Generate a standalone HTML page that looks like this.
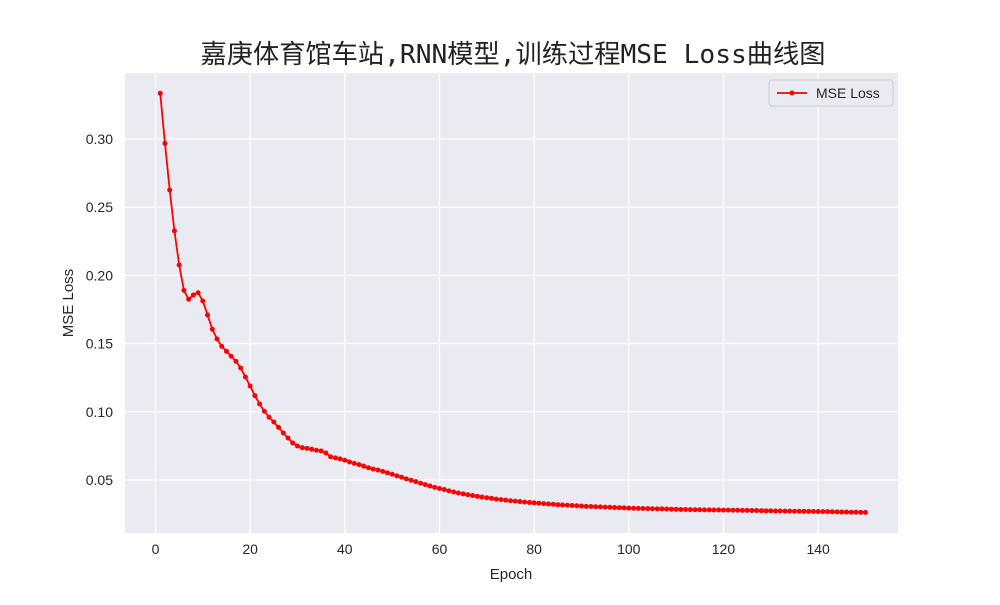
<!DOCTYPE html>
<html><head><meta charset="utf-8"><style>
body{margin:0;background:#fff;}
svg text{font-family:"Liberation Sans","DejaVu Sans",sans-serif;}
</style></head><body>
<svg id="chart" width="1000" height="600" xmlns="http://www.w3.org/2000/svg">
<rect x="0" y="0" width="1000" height="600" fill="#fff"/>
<rect x="125" y="73" width="773" height="460" fill="#eaeaf2"/>
<g id="grid"></g>
<g id="ticks"></g>
<text x="513" y="63" text-anchor="middle" font-size="26" textLength="625" lengthAdjust="spacingAndGlyphs" fill="#222" style="font-family:'DejaVu Sans Mono','Noto Sans CJK SC',monospace">嘉庚体育馆车站,RNN模型,训练过程MSE Loss曲线图</text>
<text x="511" y="579" text-anchor="middle" font-size="15" fill="#262626">Epoch</text>
<text x="73" y="303" text-anchor="middle" font-size="15" fill="#262626" transform="rotate(-90 73 303)">MSE Loss</text>
<g id="series"></g>
<g>
<rect x="769" y="80" width="124" height="26" rx="3" fill="#eaeaf2" stroke="#ccc"/>
<line x1="777" y1="93" x2="807" y2="93" stroke="red" stroke-width="1.8"/>
<circle cx="792" cy="93" r="2.5" fill="red"/>
<text x="816" y="98" font-size="14" fill="#262626">MSE Loss</text>
</g>
</svg>
<script>
const epochs = Array.from({length:150},(_,i)=>i+1);
const loss = [0.3335,0.2968,0.2626,0.2326,0.2076,0.189,0.1825,0.1856,0.1873,0.1812,
0.171,0.1605,0.1534,0.148,0.1443,0.1407,0.137,0.1321,0.1255,0.1189,
0.1118,0.1057,0.1004,0.096,0.0925,0.0886,0.0845,0.0808,0.0771,0.0749,
0.0737,0.0732,0.0725,0.0718,0.0713,0.0698,0.0670,0.0662,0.0655,0.0645,
0.0632,0.0622,0.0613,0.0602,0.0590,0.0580,0.0573,0.0563,0.0552,0.0542,
0.0530,0.0520,0.0508,0.0498,0.0488,0.0476,0.0466,0.0456,0.0446,0.0438,
0.0430,0.0420,0.0412,0.0405,0.0398,0.0392,0.0386,0.0380,0.0375,0.0370,
0.0365,0.0360,0.0356,0.0352,0.0348,0.0345,0.0342,0.0338,0.0335,0.0332,
0.0330,0.0327,0.0324,0.0322,0.0319,0.0317,0.0315,0.0313,0.0311,0.0309,
0.0307,0.0306,0.0304,0.0303,0.0301,0.0300,0.0298,0.0297,0.0296,0.0294,
0.0293,0.0292,0.0291,0.0290,0.0289,0.0288,0.0288,0.0287,0.0286,0.0285,
0.0284,0.0284,0.0283,0.0282,0.0282,0.0281,0.0281,0.0280,0.0280,0.0279,
0.0279,0.0278,0.0278,0.0277,0.0277,0.0276,0.0276,0.0275,0.0274,0.0274,
0.0273,0.0273,0.0272,0.0272,0.0271,0.0271,0.0270,0.0270,0.0269,0.0269,
0.0268,0.0268,0.0267,0.0266,0.0265,0.0265,0.0264,0.0264,0.0263,0.0263];
const xTicks = [0,20,40,60,80,100,120,140];
const yTicks = [0.05,0.10,0.15,0.20,0.25,0.30];
const NS='http://www.w3.org/2000/svg';
const X = e => 155.5 + e*4.733;
const Y = v => 139 + (0.30 - v)*1364;
const grid=document.getElementById('grid'), ticks=document.getElementById('ticks'), series=document.getElementById('series');
function mk(tag, attrs, parent){const el=document.createElementNS(NS,tag);for(const k in attrs)el.setAttribute(k,attrs[k]);parent.appendChild(el);return el;}
xTicks.forEach(t=>{
  const l=mk('line',{x1:X(t),x2:X(t),y1:73,y2:533,stroke:'#fff','stroke-width':1.2},grid);
  
  
  const tx=mk('text',{x:X(t),y:554,'text-anchor':'middle','font-size':14,fill:'#262626'},ticks);
  tx.textContent=t;
  
  
});
yTicks.forEach(t=>{
  const l=mk('line',{x1:125,x2:898,y1:Y(t),y2:Y(t),stroke:'#fff','stroke-width':1.2},grid);
  
  
  const tx=mk('text',{x:113,y:Y(t)+5,'text-anchor':'end','font-size':14,fill:'#262626'},ticks);
  tx.textContent=t.toFixed(2);
  
  
});
const pts=epochs.map((e,i)=>X(e).toFixed(2)+','+Y(loss[i]).toFixed(2)).join(' ');
const pl=mk('polyline',{points:pts,fill:'none',stroke:'red','stroke-width':1.8},series);


epochs.forEach((e,i)=>{
  const c=mk('circle',{cx:X(e),cy:Y(loss[i]),r:2.5,fill:'red'},series);
  
  
});
</script>
</body></html>
